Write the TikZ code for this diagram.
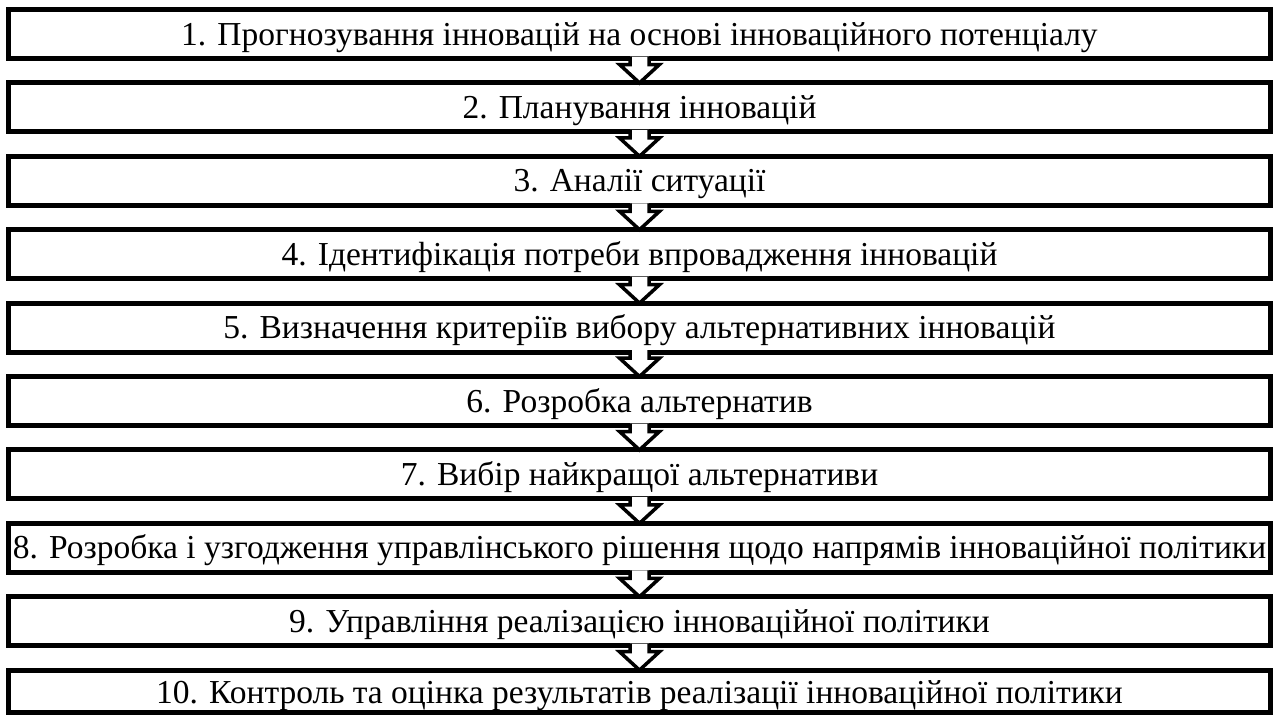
\documentclass[tikz,border=0pt]{standalone}
\usepackage{fontspec}
\setmainfont{Liberation Serif}
\usetikzlibrary{calc}
\begin{document}
\begin{tikzpicture}[x=1pt,y=-1pt,
  stagebox/.style={draw=black, line width=5pt, miter limit=10, line join=miter, fill=white,
    minimum width=1262pt, minimum height=49pt, inner sep=0pt, anchor=north,
    text height=22pt, text depth=0pt,
    font=\fontsize{33.5}{36}\selectfont},
  blockarrow/.style={draw=black, line width=3.5pt, line join=miter, miter limit=10}
]
\useasboundingbox (0,0) rectangle (1279,718);
\fill[white] (0,0) rectangle (1279,718);
\foreach \i/\t in {
  1/{1. Прогнозування інновацій на основі інноваційного потенціалу},
  2/{2. Планування інновацій},
  3/{3. Аналії ситуації},
  4/{4. Ідентифікація потреби впровадження інновацій},
  5/{5. Визначення критеріїв вибору альтернативних інновацій},
  6/{6. Розробка альтернатив},
  7/{7. Вибір найкращої альтернативи},
  8/{8. Розробка і узгодження управлінського рішення щодо напрямів інноваційної політики},
  9/{9. Управління реалізацією інноваційної політики}}
{
  \node[stagebox] (b\i) at (639.5, {7+73.4*(\i-1)}) {\t};
}
\node[stagebox, minimum height=42pt, text height=24pt] (b10) at (639.5, {7+73.4*9}) {10. Контроль та оцінка результатів реалізації інноваційної політики};
\foreach \i [evaluate=\i as \j using int(\i+1)] in {1,...,9}
{
  \coordinate (s) at ($(b\i.south)+(0,-2.5)$);
  \coordinate (t) at ($(b\j.north)+(0,2.5)$);
  \fill[white] ($(s)+(-9.5,-2)$) -- ($(s)+(-9.5,6)$) -- ($(s)+(-20,6)$) -- (t)
     -- ($(s)+(20,6)$) -- ($(s)+(9.5,6)$) -- ($(s)+(9.5,-2)$) -- cycle;
  \draw[blockarrow] ($(s)+(-9.5,-2)$) -- ($(s)+(-9.5,6)$) -- ($(s)+(-20,6)$) -- (t)
     -- ($(s)+(20,6)$) -- ($(s)+(9.5,6)$) -- ($(s)+(9.5,-2)$);
}
\end{tikzpicture}
\end{document}
